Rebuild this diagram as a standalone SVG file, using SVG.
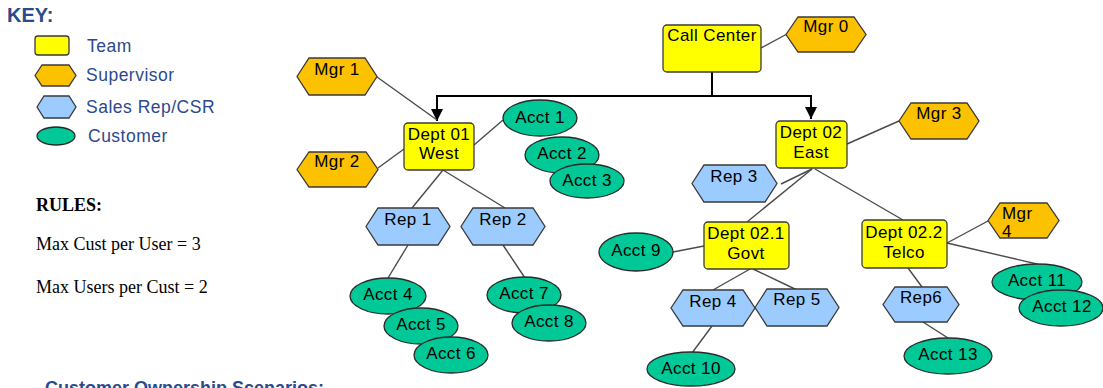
<svg xmlns="http://www.w3.org/2000/svg" width="1103" height="388" viewBox="0 0 1103 388">
<style>
.team{fill:#ffff00;stroke:#3a3a3a;stroke-width:1.3}
.sup{fill:#fcc200;stroke:#3a3a3a;stroke-width:1.3}
.rep{fill:#9cccff;stroke:#3a3a3a;stroke-width:1.3}
.cust{fill:#00c896;stroke:#2a2a2a;stroke-width:1.3}
.t{font-family:"Liberation Sans",Arial,sans-serif;font-size:17px;fill:#000;text-anchor:middle;letter-spacing:0.4px}
.ts{font-family:"Liberation Sans",Arial,sans-serif;font-size:17px;fill:#000;text-anchor:start;letter-spacing:0.4px}
.key{font-family:"Liberation Sans",Arial,sans-serif;font-size:17.5px;fill:#2b4a8c;letter-spacing:0.5px}
.hd{font-family:"Liberation Sans",Arial,sans-serif;font-weight:bold;fill:#2b4a8c}
.rule{font-family:"Liberation Serif","Times New Roman",serif;font-size:18px;fill:#000}
.tree{stroke:#000;stroke-width:2;fill:none}
.ln{stroke:#4a4a4a;stroke-width:1.4;fill:none}
</style>
<defs>
<marker id="arr" markerWidth="12" markerHeight="12" refX="12" refY="6" orient="auto" markerUnits="userSpaceOnUse">
<path d="M0,0 L12,6 L0,12 Z" fill="#000"/>
</marker>
</defs>

<g id="legend">
<text class="hd" x="7" y="22" font-size="20">KEY:</text>
<rect class="team" x="35" y="36" width="34" height="19" rx="3"/>
<text class="key" x="87" y="52">Team</text>
<polygon class="sup" points="35,75.5 42,65 69,65 76,75.5 69,86 42,86"/>
<text class="key" x="86" y="81">Supervisor</text>
<polygon class="rep" points="37,107 44,96 69,96 76,107 69,118 44,118"/>
<text class="key" x="86" y="113">Sales Rep/CSR</text>
<ellipse class="cust" cx="56" cy="136" rx="19" ry="9"/>
<text class="key" x="88" y="142">Customer</text>
</g>

<g id="rules">
<text class="rule" x="36" y="211" font-weight="bold" font-size="19">RULES:</text>
<text class="rule" x="36" y="250">Max Cust per User = 3</text>
<text class="rule" x="36" y="293">Max Users per Cust = 2</text>
</g>

<text class="hd" x="45" y="394" font-size="18">Customer Ownership Scenarios:</text>

<g id="connectors">
<path class="tree" d="M712,72 V96 M437,96 H811" />
<path class="tree" d="M437,95 V121" marker-end="url(#arr)"/>
<path class="tree" d="M811,95 V119" marker-end="url(#arr)"/>
<line class="ln" x1="761" y1="48" x2="787" y2="34"/>
<line class="ln" x1="377" y1="77" x2="437" y2="120"/>
<line class="ln" x1="378" y1="168" x2="404" y2="149"/>
<line class="ln" x1="474" y1="145" x2="503" y2="120"/>
<line class="ln" x1="443" y1="170" x2="412" y2="208"/>
<line class="ln" x1="443" y1="170" x2="505" y2="208"/>
<line class="ln" x1="408" y1="245" x2="388" y2="278"/>
<line class="ln" x1="503" y1="245" x2="525" y2="278"/>
<line class="ln" x1="847" y1="144" x2="899" y2="121"/>
<line class="ln" x1="812" y1="169" x2="781" y2="184"/>
<line class="ln" x1="812" y1="169" x2="747" y2="222"/>
<line class="ln" x1="815" y1="169" x2="903" y2="220"/>
<line class="ln" x1="673" y1="252" x2="704" y2="246"/>
<line class="ln" x1="750" y1="269" x2="713" y2="290"/>
<line class="ln" x1="753" y1="269" x2="797" y2="290"/>
<line class="ln" x1="712" y1="326" x2="692" y2="353"/>
<line class="ln" x1="947" y1="243" x2="988" y2="221"/>
<line class="ln" x1="947" y1="243" x2="1037" y2="264"/>
<line class="ln" x1="908" y1="268" x2="922" y2="287"/>
<line class="ln" x1="923" y1="322" x2="948" y2="338"/>
</g>

<g id="call-center"><rect class="team" x="663" y="25" width="98" height="47" rx="4"/><text class="t" x="712" y="41">Call Center</text></g>
<g id="mgr0"><polygon class="sup" points="786,34.5 798,17 854,17 866,34.5 854,52 798,52"/><text class="t" x="826" y="32">Mgr 0</text></g>

<g id="dept01"><rect class="team" x="404" y="123" width="70" height="47" rx="4"/><text class="t" x="439" y="140">Dept 01</text><text class="t" x="439" y="159">West</text></g>
<g id="mgr1"><polygon class="sup" points="297,76.5 309,58 365,58 377,76.5 365,95 309,95"/><text class="t" x="337" y="75">Mgr 1</text></g>
<g id="mgr2"><polygon class="sup" points="297,169.5 309,152 366,152 378,169.5 366,187 309,187"/><text class="t" x="337" y="167">Mgr 2</text></g>
<g id="acct1"><ellipse class="cust" cx="540" cy="118" rx="37" ry="18"/><text class="t" x="540" y="123">Acct 1</text></g>
<g id="acct2"><ellipse class="cust" cx="562" cy="155" rx="37" ry="18"/><text class="t" x="562" y="159">Acct 2</text></g>
<g id="acct3"><ellipse class="cust" cx="587" cy="181" rx="37" ry="17"/><text class="t" x="587" y="186">Acct 3</text></g>

<g id="rep1"><polygon class="rep" points="366,226.5 378,208 438,208 450,226.5 438,245 378,245"/><text class="t" x="408" y="225">Rep 1</text></g>
<g id="rep2"><polygon class="rep" points="461,226.5 473,208 533,208 545,226.5 533,245 473,245"/><text class="t" x="503" y="225">Rep 2</text></g>
<g id="acct4"><ellipse class="cust" cx="388" cy="296" rx="38" ry="18"/><text class="t" x="388" y="300">Acct 4</text></g>
<g id="acct5"><ellipse class="cust" cx="421" cy="326" rx="37" ry="18"/><text class="t" x="421" y="330">Acct 5</text></g>
<g id="acct6"><ellipse class="cust" cx="451" cy="355" rx="37" ry="18"/><text class="t" x="451" y="359">Acct 6</text></g>
<g id="acct7"><ellipse class="cust" cx="524" cy="295" rx="37" ry="18"/><text class="t" x="524" y="299">Acct 7</text></g>
<g id="acct8"><ellipse class="cust" cx="549" cy="323" rx="37" ry="18"/><text class="t" x="549" y="327">Acct 8</text></g>

<g id="dept02"><rect class="team" x="776" y="121" width="71" height="47" rx="4"/><text class="t" x="811" y="138">Dept 02</text><text class="t" x="811" y="158">East</text></g>
<g id="mgr3"><polygon class="sup" points="899,121 911,103 967,103 979,121 967,139 911,139"/><text class="t" x="939" y="119">Mgr 3</text></g>
<g id="rep3"><polygon class="rep" points="692,183.5 704,165 765,165 777,183.5 765,202 704,202"/><text class="t" x="734" y="182">Rep 3</text></g>

<g id="dept021"><rect class="team" x="704" y="222" width="85" height="47" rx="4"/><text class="t" x="746" y="239">Dept 02.1</text><text class="t" x="746" y="259">Govt</text></g>
<g id="acct9"><ellipse class="cust" cx="636" cy="252" rx="37" ry="19"/><text class="t" x="636" y="256">Acct 9</text></g>
<g id="rep4"><polygon class="rep" points="671,308 683,290 743,290 755,308 743,326 683,326"/><text class="t" x="713" y="307">Rep 4</text></g>
<g id="rep5"><polygon class="rep" points="755,307.5 767,289 827,289 839,307.5 827,326 767,326"/><text class="t" x="797" y="305">Rep 5</text></g>
<g id="acct10"><ellipse class="cust" cx="691" cy="369" rx="44" ry="17"/><text class="t" x="691" y="374">Acct 10</text></g>

<g id="dept022"><rect class="team" x="862" y="220" width="85" height="48" rx="4"/><text class="t" x="904" y="238">Dept 02.2</text><text class="t" x="904" y="258">Telco</text></g>
<g id="mgr4"><polygon class="sup" points="988,220.5 1000,203 1047,203 1059,220.5 1047,238 1000,238"/><text class="ts" x="1002" y="219">Mgr</text><text class="ts" x="1002" y="237">4</text></g>
<g id="acct11"><ellipse class="cust" cx="1037" cy="282" rx="45" ry="18"/><text class="t" x="1037" y="286">Acct 11</text></g>
<g id="acct12"><ellipse class="cust" cx="1061" cy="308" rx="42" ry="18"/><text class="t" x="1062" y="312">Acct 12</text></g>
<g id="rep6"><polygon class="rep" points="883,304.5 895,287 947,287 959,304.5 947,322 895,322"/><text class="t" x="921" y="303">Rep6</text></g>
<g id="acct13"><ellipse class="cust" cx="948" cy="356" rx="44" ry="18"/><text class="t" x="948" y="360">Acct 13</text></g>
</svg>
